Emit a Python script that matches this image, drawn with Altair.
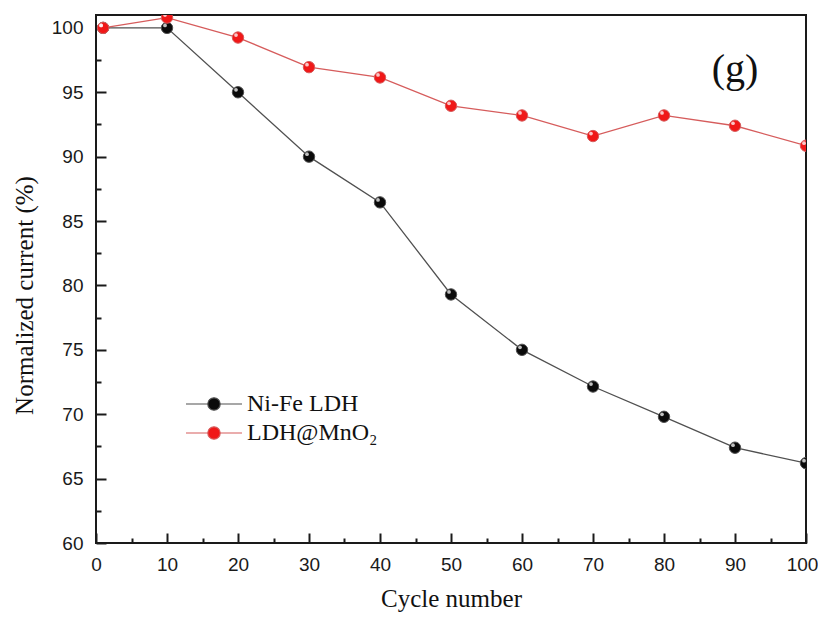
import altair as alt
import pandas as pd

# ---- data ----
cycles = [1, 10, 20, 30, 40, 50, 60, 70, 80, 90, 100]
nife_ldh = [100.0, 100.0, 95.0, 90.0, 86.45, 79.3, 75.0, 72.15, 69.8, 67.4, 66.2]
ldh_mno2 = [100.0, 100.8, 99.25, 96.95, 96.15, 93.95, 93.2, 91.6, 93.2, 92.4, 90.85]
series_names = ["Ni-Fe LDH", "LDH@MnO\u2082"]
marker_colors = ["#0a0a0a", "#f01818"]
line_colors = ["#505050", "#d65c5c"]

x_major = [0, 10, 20, 30, 40, 50, 60, 70, 80, 90, 100]
x_minor = [5, 15, 25, 35, 45, 55, 65, 75, 85, 95]
y_major = [60, 65, 70, 75, 80, 85, 90, 95, 100]
y_minor = [62.5, 67.5, 72.5, 77.5, 82.5, 87.5, 92.5, 97.5]

rows = []
for name, vals in zip(series_names, [nife_ldh, ldh_mno2]):
    for c, v in zip(cycles, vals):
        rows.append({"cycle": c, "current": v, "series": name})
df = pd.DataFrame(rows)

xs = alt.Scale(domain=[0, 100], nice=False, zero=False)
ys = alt.Scale(domain=[60, 101], nice=False, zero=False)

x_major_axis = alt.Axis(values=x_major, orient="bottom", offset=-10, tickSize=10, labelPadding=12,
                        labelFlush=False, domain=False, grid=False, format="d",
                        labelOffset={"condition": {"test": "datum.value === 100", "value": -4},
                                     "value": 0},
                        title="Cycle number", titlePadding=12)
y_major_axis = alt.Axis(values=y_major, orient="left", offset=-10, tickSize=10, labelPadding=13,
                        labelFlush=False, domain=False, grid=False, format="d",
                        title="Normalized current (%)", titlePadding=14, titleY=280)
x_minor_axis = alt.Axis(values=x_minor, orient="bottom", offset=-5, tickSize=5, labels=False,
                        domain=False, grid=False, title=None)
y_minor_axis = alt.Axis(values=y_minor, orient="left", offset=-5, tickSize=5, labels=False,
                        domain=False, grid=False, title=None)

sym_path = ("M-2.8,0L-0.62,0M0.62,0L2.8,0"
            "M-0.62,0A0.62,0.62,0,1,1,0.62,0A0.62,0.62,0,1,1,-0.62,0Z")
legend = alt.Legend(title=None, orient="none", legendX=106, legendY=377,
                    symbolType=sym_path, symbolSize=400, symbolStrokeWidth=1.2,
                    labelFont="Liberation Serif", labelFontSize=24, labelColor="#111111",
                    labelOffset=21, rowPadding=5, padding=0)

fill_enc = alt.Fill("series:N", scale=alt.Scale(domain=series_names, range=marker_colors),
                    legend=legend, sort=series_names)
stroke_enc = alt.Stroke("series:N", scale=alt.Scale(domain=series_names, range=line_colors),
                        legend=legend, sort=series_names)

base = alt.Chart(df)

lines = base.mark_line(strokeWidth=1.3, clip=True).encode(
    x=alt.X("cycle:Q", scale=xs, axis=x_major_axis),
    y=alt.Y("current:Q", scale=ys, axis=y_major_axis),
    stroke=stroke_enc,
    detail="series:N",
)

points = base.mark_point(filled=True, size=130, strokeWidth=1, clip=True, opacity=1).encode(
    x=alt.X("cycle:Q", scale=xs, axis=None),
    y=alt.Y("current:Q", scale=ys, axis=None),
    fill=fill_enc,
    stroke=stroke_enc,
)

shine = base.mark_point(filled=True, size=14, color="#ffffff", opacity=0.75,
                        xOffset=-2, yOffset=-2.5, clip=True).encode(
    x=alt.X("cycle:Q", scale=xs, axis=None),
    y=alt.Y("current:Q", scale=ys, axis=None),
)

minor = base.mark_point(opacity=0).encode(
    x=alt.X("cycle:Q", scale=xs, axis=x_minor_axis),
    y=alt.Y("current:Q", scale=ys, axis=y_minor_axis),
)

label = alt.Chart(pd.DataFrame({"t": ["(g)"]})).mark_text(
    font="Liberation Serif", fontSize=40, color="#111111", align="center", baseline="middle"
).encode(
    x=alt.X(datum=90, scale=xs, axis=None),
    y=alt.Y(datum=96.7, scale=ys, axis=None),
    text="t:N",
)

chart = alt.layer(minor, lines, points, shine, label).resolve_axis(
    x="independent", y="independent"
).properties(
    width=710, height=528,
    autosize=alt.AutoSizeParams(type="none"),
    padding={"left": 88, "top": 7, "right": 12, "bottom": 70},
).configure_view(
    stroke="#1a1a1a", strokeWidth=2
).configure_axis(
    labelFont="Liberation Sans", labelFontSize=19, labelColor="#1a1a1a",
    tickColor="#1a1a1a", tickWidth=2,
    titleFont="Liberation Serif", titleFontSize=25, titleFontWeight="normal", titleColor="#111111",
)

chart.save("out.html", embed_options={"renderer": "svg", "actions": False})
